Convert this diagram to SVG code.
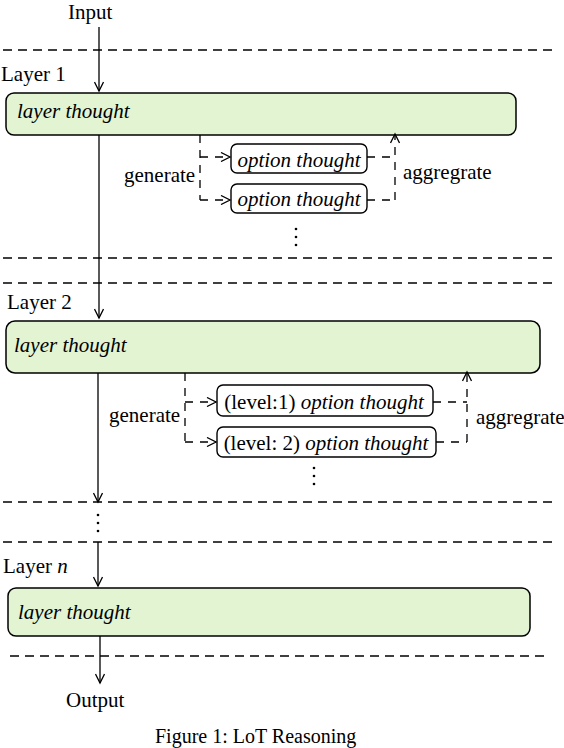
<svg xmlns="http://www.w3.org/2000/svg" width="564" height="748" viewBox="0 0 564 748">
<defs>
<marker id="ah" viewBox="-10 -5 12 10" refX="0" refY="0" markerWidth="12" markerHeight="10" markerUnits="userSpaceOnUse" orient="auto">
<path d="M-9,-4.5 L0,0 L-9,4.5" fill="none" stroke="#000" stroke-width="1.3"/>
</marker>
<style>
.t{font-family:"Liberation Serif","Times New Roman",serif;font-size:21px;fill:#000}
.i{font-style:italic}
.sep{stroke:#000;stroke-width:1.4;stroke-dasharray:9,6;fill:none}
.ar{stroke:#000;stroke-width:1.3;fill:none;marker-end:url(#ah)}
.dl{stroke:#000;stroke-width:1.3;fill:none;stroke-dasharray:8,7}
.da{stroke:#000;stroke-width:1.3;fill:none;stroke-dasharray:8,7;marker-end:url(#ah)}
.lb{fill:#e2f4d2;stroke:#000;stroke-width:1.5}
.ob{fill:#fff;stroke:#000;stroke-width:1.4}
</style>
</defs>

<g id="separators">
<line class="sep" x1="3" y1="50" x2="556" y2="50"/>
<line class="sep" x1="3" y1="258" x2="556" y2="258"/>
<line class="sep" x1="3" y1="283" x2="556" y2="283"/>
<line class="sep" x1="3" y1="502" x2="556" y2="502"/>
<line class="sep" x1="3" y1="542" x2="556" y2="542"/>
<line class="sep" x1="10" y1="656" x2="546" y2="656"/>
</g>

<g id="labels">
<text class="t" x="68" y="19">Input</text>
<text class="t" x="1" y="81">Layer 1</text>
<text class="t" x="7" y="309">Layer 2</text>
<text class="t" x="3" y="573">Layer <tspan class="i">n</tspan></text>
<text class="t" x="66" y="707">Output</text>
<text class="t" x="124" y="182">generate</text>
<text class="t" x="403" y="179">aggregrate</text>
<text class="t" x="109" y="422">generate</text>
<text class="t" x="476" y="424">aggregrate</text>
<text class="t" x="155" y="743" style="font-size:20px">Figure 1: LoT Reasoning</text>
</g>

<g id="layer1">
<rect class="lb" x="6" y="93" width="510" height="42" rx="8"/>
<text class="t i" x="17" y="118">layer thought</text>
</g>
<g id="opt1a">
<rect class="ob" x="231" y="144" width="136" height="29" rx="6"/>
<text class="t i" x="299" y="167" text-anchor="middle">option thought</text>
</g>
<g id="opt1b">
<rect class="ob" x="231" y="184" width="136" height="29" rx="6"/>
<text class="t i" x="299" y="206" text-anchor="middle">option thought</text>
</g>

<g id="layer2">
<rect class="lb" x="6" y="321" width="534" height="52" rx="9"/>
<text class="t i" x="14" y="352">layer thought</text>
</g>
<g id="opt2a">
<rect class="ob" x="217" y="385" width="216" height="31" rx="6"/>
<text class="t" x="324" y="409" text-anchor="middle">(level:1) <tspan class="i">option thought</tspan></text>
</g>
<g id="opt2b">
<rect class="ob" x="217" y="427" width="219" height="30" rx="6"/>
<text class="t" x="326" y="450" text-anchor="middle">(level: 2) <tspan class="i">option thought</tspan></text>
</g>

<g id="layern">
<rect class="lb" x="8" y="588" width="522" height="48" rx="8"/>
<text class="t i" x="18" y="619">layer thought</text>
</g>

<g id="connectors">
<line class="ar" x1="99" y1="27" x2="99" y2="91"/>
<line class="ar" x1="99" y1="135" x2="99" y2="318"/>
<line class="ar" x1="98" y1="373" x2="98" y2="502"/>
<line class="ar" x1="98" y1="542" x2="98" y2="586"/>
<line class="ar" x1="100" y1="636" x2="100" y2="683"/>

<path class="dl" d="M200,135 V200"/>
<path class="da" d="M200,157 H230"/>
<path class="da" d="M200,200 H230"/>
<path class="dl" d="M367,157 H395"/>
<path class="dl" d="M367,200 H395"/>
<path class="da" d="M395,200 V134"/>

<path class="dl" d="M185,373 V442"/>
<path class="da" d="M185,402 H216"/>
<path class="da" d="M185,442 H216"/>
<path class="dl" d="M433,402 H467"/>
<path class="dl" d="M436,442 H467"/>
<path class="da" d="M467,442 V372"/>
</g>

<g id="dots">
<circle cx="296" cy="229" r="1.3"/><circle cx="296" cy="237" r="1.3"/><circle cx="296" cy="245" r="1.3"/>
<circle cx="314" cy="468" r="1.3"/><circle cx="314" cy="476" r="1.3"/><circle cx="314" cy="484" r="1.3"/>
<circle cx="98" cy="515" r="1.3"/><circle cx="98" cy="523" r="1.3"/><circle cx="98" cy="531" r="1.3"/>
</g>
</svg>
